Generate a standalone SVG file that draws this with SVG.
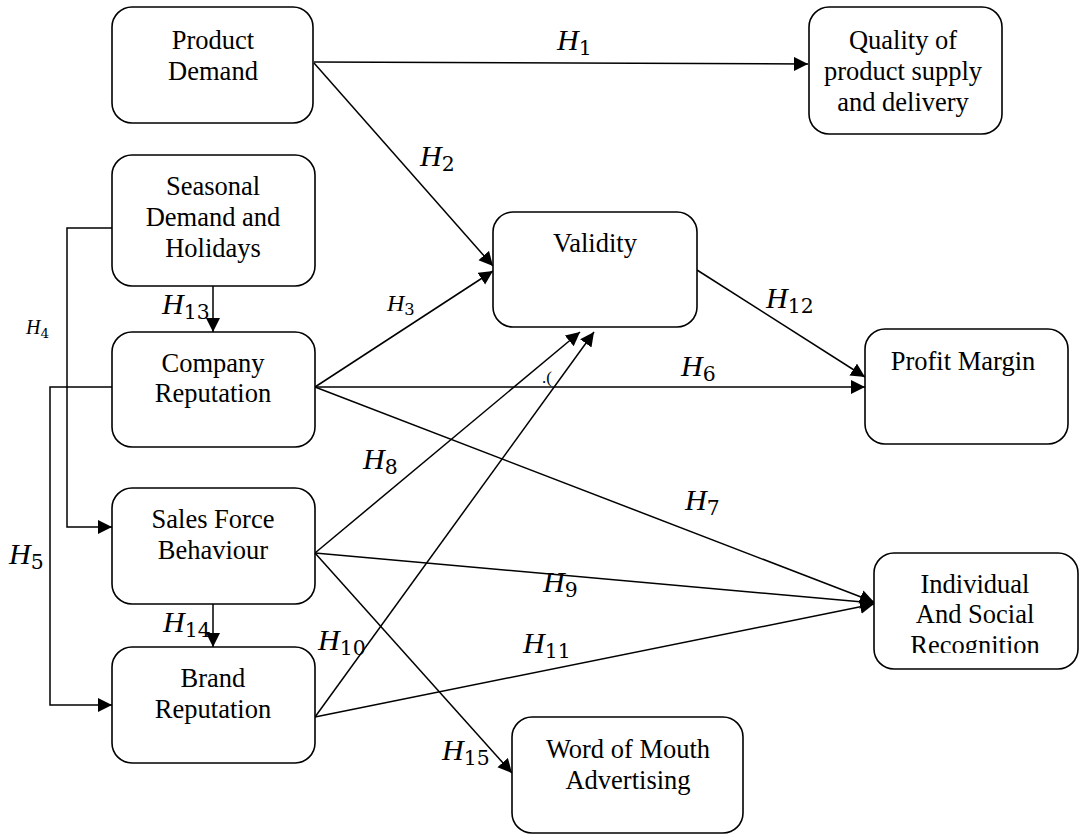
<svg xmlns="http://www.w3.org/2000/svg" width="1092" height="835" viewBox="0 0 1092 835">
<style>
.box{fill:#fff;stroke:#000;stroke-width:1.6}
.t{font-family:"Liberation Serif","Times New Roman","DejaVu Serif",serif;font-size:26.5px;text-anchor:middle;fill:#000}
.e{fill:none;stroke:#000;stroke-width:1.5}
.h{font-family:"Liberation Serif","Times New Roman",serif;font-style:italic;font-size:30px;fill:#000}
.hs{font-family:"Liberation Serif","Times New Roman",serif;font-style:italic;font-size:24px;fill:#000}
.hx{font-family:"Liberation Serif","Times New Roman",serif;font-style:italic;font-size:20px;fill:#000}
.sub{font-style:normal;font-family:"DejaVu Serif","Liberation Serif",serif;font-size:0.68em}
</style>
<defs>
<marker id="ar" markerUnits="userSpaceOnUse" markerWidth="15" markerHeight="15" refX="14" refY="7" orient="auto">
<path d="M0,0 L14,7 L0,14 z" fill="#000"/>
</marker>
<clipPath id="clipRec"><rect x="874" y="553" width="205" height="100"/></clipPath>
</defs>
<g id="connectors">
<line class="e" x1="314" y1="62" x2="808" y2="64" marker-end="url(#ar)"/>
<line class="e" x1="314" y1="63" x2="493" y2="266" marker-end="url(#ar)"/>
<line class="e" x1="315" y1="387" x2="493" y2="271" marker-end="url(#ar)"/>
<line class="e" x1="315" y1="387" x2="865" y2="387" marker-end="url(#ar)"/>
<line class="e" x1="697" y1="270" x2="865" y2="377" marker-end="url(#ar)"/>
<line class="e" x1="315" y1="387" x2="874" y2="602" marker-end="url(#ar)"/>
<line class="e" x1="315" y1="553" x2="874" y2="603" marker-end="url(#ar)"/>
<line class="e" x1="315" y1="717" x2="874" y2="604" marker-end="url(#ar)"/>
<line class="e" x1="315" y1="553" x2="580" y2="332" marker-end="url(#ar)"/>
<line class="e" x1="315" y1="717" x2="594" y2="332" marker-end="url(#ar)"/>
<line class="e" x1="315" y1="553" x2="512" y2="773" marker-end="url(#ar)"/>
<line class="e" x1="213" y1="286" x2="213" y2="332" marker-end="url(#ar)"/>
<line class="e" x1="213" y1="604" x2="213" y2="647" marker-end="url(#ar)"/>
<polyline class="e" points="112,228 67,228 67,527 112,527" marker-end="url(#ar)"/>
<polyline class="e" points="112,387 50,387 50,705 112,705" marker-end="url(#ar)"/>
<text class="h" x="557" y="50">H<tspan class="sub" dy="5">1</tspan></text>
<text class="h" x="420" y="166">H<tspan class="sub" dy="5">2</tspan></text>
<text class="hs" x="387" y="311">H<tspan class="sub" dy="4">3</tspan></text>
<text class="hx" x="26" y="334">H<tspan class="sub" dy="4">4</tspan></text>
<text class="h" x="9" y="564">H<tspan class="sub" dy="5">5</tspan></text>
<text class="h" x="681" y="376">H<tspan class="sub" dy="5">6</tspan></text>
<text class="h" x="685" y="510">H<tspan class="sub" dy="5">7</tspan></text>
<text class="h" x="363" y="469">H<tspan class="sub" dy="5">8</tspan></text>
<text class="h" x="543" y="592">H<tspan class="sub" dy="5">9</tspan></text>
<text class="h" x="318" y="650">H<tspan class="sub" dy="5">10</tspan></text>
<text class="h" x="523" y="653">H<tspan class="sub" dy="5">11</tspan></text>
<text class="h" x="766" y="308">H<tspan class="sub" dy="5">12</tspan></text>
<text class="h" x="162" y="314">H<tspan class="sub" dy="5">13</tspan></text>
<text class="h" x="163" y="632">H<tspan class="sub" dy="5">14</tspan></text>
<text class="h" x="442" y="760">H<tspan class="sub" dy="5">15</tspan></text>
<text x="542" y="383" font-family="Liberation Serif, serif" font-size="17">.(</text>
</g>
<g id="product-demand">
<rect class="box" x="112" y="7" width="201" height="116" rx="20"/>
<text class="t" x="213" y="49">Product</text>
<text class="t" x="213" y="80">Demand</text>
</g>
<g id="quality">
<rect class="box" x="809" y="7" width="193" height="127" rx="20"/>
<text class="t" x="903" y="49">Quality of</text>
<text class="t" x="903" y="80">product supply</text>
<text class="t" x="903" y="111">and delivery</text>
</g>
<g id="seasonal">
<rect class="box" x="112" y="155" width="203" height="131" rx="20"/>
<text class="t" x="213" y="195">Seasonal</text>
<text class="t" x="213" y="226">Demand and</text>
<text class="t" x="213" y="257">Holidays</text>
</g>
<g id="validity">
<rect class="box" x="493" y="212" width="204" height="115" rx="20"/>
<text class="t" x="595" y="252">Validity</text>
</g>
<g id="company-reputation">
<rect class="box" x="112" y="332" width="203" height="115" rx="20"/>
<text class="t" x="213" y="372">Company</text>
<text class="t" x="213" y="402">Reputation</text>
</g>
<g id="profit-margin">
<rect class="box" x="865" y="329" width="203" height="115" rx="20"/>
<text class="t" x="963" y="370">Profit Margin</text>
</g>
<g id="sales-force">
<rect class="box" x="112" y="488" width="203" height="116" rx="20"/>
<text class="t" x="213" y="528">Sales Force</text>
<text class="t" x="213" y="559">Behaviour</text>
</g>
<g id="individual">
<rect class="box" x="874" y="553" width="204" height="116" rx="20"/>
<text class="t" x="975" y="593">Individual</text>
<text class="t" x="975" y="623">And Social</text>
<text class="t" x="975" y="654" clip-path="url(#clipRec)">Recognition</text>
</g>
<g id="brand-reputation">
<rect class="box" x="112" y="647" width="203" height="116" rx="20"/>
<text class="t" x="213" y="687">Brand</text>
<text class="t" x="213" y="718">Reputation</text>
</g>
<g id="word-of-mouth">
<rect class="box" x="512" y="717" width="231" height="116" rx="20"/>
<text class="t" x="628" y="758">Word of Mouth</text>
<text class="t" x="628" y="789">Advertising</text>
</g>
</svg>
